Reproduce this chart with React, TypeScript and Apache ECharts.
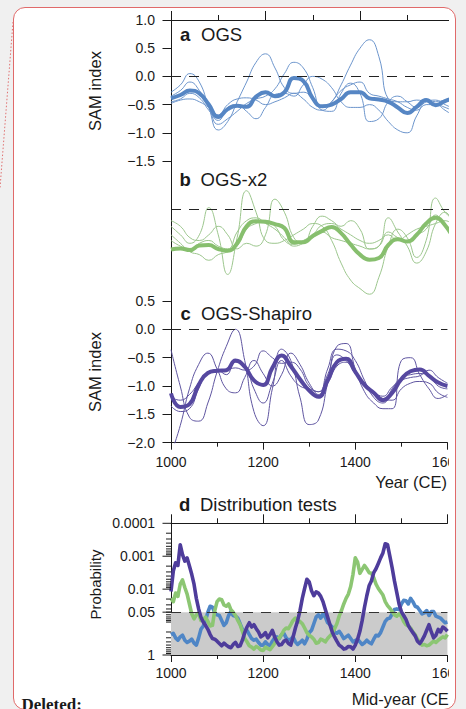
import React, { useEffect, useRef } from "react";
import * as echarts from "echarts";

// ---- Panels a–c: 20-year sampled SAM index reconstructions ----
const years20 = [
  1000, 1020, 1040, 1060, 1080, 1100, 1120, 1140, 1160, 1180, 1200, 1220, 1240, 1260, 1280, 1300,
  1320, 1340, 1360, 1380, 1400, 1420, 1440, 1460, 1480, 1500, 1520, 1540, 1560, 1580, 1600,
];

const ogsMean = [
  -0.39, -0.33, -0.25, -0.3, -0.5, -0.72, -0.58, -0.52, -0.54, -0.36, -0.28, -0.35, -0.28, -0.03, -0.08, -0.39,
  -0.53, -0.5, -0.4, -0.28, -0.28, -0.39, -0.41, -0.45, -0.55, -0.65, -0.54, -0.42, -0.51, -0.44, -0.38,
];
const ogsRun1 = [
  -0.28, -0.15, 0.05, -0.1, -0.55, -0.95, -0.8, -0.45, -0.1, 0.25, 0.4, 0.15, -0.2, -0.3, -0.28, -0.4,
  -0.55, -0.45, -0.15, 0.2, 0.5, 0.65, 0.35, -0.4, -0.45, -0.45, -0.42, -0.45, -0.48, -0.6, -0.7,
];
const ogsRun2 = [
  -0.35, -0.25, -0.1, -0.25, -0.55, -0.85, -0.75, -0.62, -0.48, -0.4, -0.35, -0.22, 0.05, 0.25, 0.15, -0.2,
  -0.6, -0.62, -0.3, -0.12, -0.3, -0.8, -0.75, -0.45, -0.35, -0.45, -0.55, -0.4, -0.45, -0.42, -0.4,
];
const ogsRun3 = [
  -0.45, -0.4, -0.3, -0.38, -0.6, -0.78, -0.55, -0.5, -0.62, -0.75, -0.55, -0.32, -0.3, -0.35, -0.15, 0.0,
  -0.05, -0.2, -0.45, -0.55, -0.55, -0.5, -0.6, -0.8, -0.95, -1.0, -0.7, -0.45, -0.42, -0.5, -0.58,
];
const ogsRun4 = [
  -0.48, -0.42, -0.4, -0.45, -0.55, -0.68, -0.5, -0.4, -0.38, -0.42, -0.5, -0.45, -0.38, -0.3, -0.4, -0.55,
  -0.6, -0.45, -0.25, -0.15, -0.1, -0.3, -0.35, -0.4, -0.45, -0.55, -0.6, -0.5, -0.5, -0.55, -0.62,
];

const x2Mean = [
  -0.71, -0.69, -0.72, -0.64, -0.63, -0.7, -0.73, -0.6, -0.3, -0.21, -0.22, -0.26, -0.33, -0.58, -0.58, -0.47,
  -0.38, -0.31, -0.42, -0.62, -0.8, -0.89, -0.86, -0.63, -0.53, -0.57, -0.45, -0.25, -0.15, -0.28, -0.55,
];
const x2Run1 = [
  -0.3, -0.45, -0.6, -0.45, 0.03, -0.45, -1.15, -0.5, 0.33, -0.05, -0.55, -0.6, -0.55, -0.45, -0.35, -0.25,
  -0.3, -0.55, -0.95, -1.25, -1.4, -1.5, -1.2, -0.65, -0.35, -0.5, -0.85, -0.55, 0.2, -0.05, -0.2,
];
const x2Run2 = [
  -0.2, -0.3, -0.5, -0.55, -0.45, -0.3, -0.45, -0.7, -0.6, -0.65, -0.45, 0.18, -0.05, -0.5, -0.6, -0.3,
  -0.12, -0.2, -0.3, -0.2, -0.35, -0.7, -0.65, -0.15, -0.4, -0.65, -0.95, -0.75, -0.25, -0.05, -0.35,
];
const x2Run3 = [
  -0.45, -0.6, -0.75, -0.8, -0.9, -0.8, -0.75, -0.65, -0.35, -0.25, -0.2, -0.3, -0.55, -0.62, -0.55, -0.45,
  -0.28, -0.25, -0.35, -0.45, -0.55, -0.6, -0.55, -0.45, -0.55, -0.45, -0.35, -0.3, -0.25, -0.2, -0.3,
];
const x2Run4 = [
  -0.55, -0.65, -0.7, -0.6, -0.55, -0.65, -0.7, -0.4, -0.2, -0.15, -0.25, -0.35, -0.5, -0.65, -0.6, -0.5,
  -0.4, -0.5, -0.55, -0.6, -0.65, -0.7, -0.65, -0.4, -0.5, -0.55, -0.45, -0.35, -0.1, -0.3, -0.45,
];

const shapiroMean = [
  -1.13, -1.37, -1.32, -0.98, -0.77, -0.73, -0.72, -0.55, -0.66, -0.9, -0.98, -0.68, -0.46, -0.65, -0.88, -1.08,
  -1.19, -0.9, -0.58, -0.52, -0.75, -0.98, -1.12, -1.25, -1.12, -0.88, -0.74, -0.71, -0.82, -0.94, -1.0,
];
const shapiroRun1 = [
  -0.36, -1.0, -1.55, -1.62, -1.3, -0.75, -0.3, 0.0, -0.55, -1.45, -1.7, -1.05, -0.35, -0.55, -1.2, -1.68,
  -1.6, -0.95, -0.3, -0.25, -0.7, -1.1, -1.3, -1.4, -1.4, -0.55, -0.5, -0.8, -1.05, -1.22, -1.15,
];
const shapiroRun2 = [
  -2.2, -1.7, -1.05, -0.62, -0.42, -0.7, -1.05, -1.12, -0.85, -0.55, -0.78, -1.0, -0.8, -0.42, -0.62, -0.95,
  -1.15, -0.7, -0.35, -0.38, -0.55, -0.9, -1.2, -1.3, -1.05, -0.85, -0.8, -0.78, -0.82, -1.0, -1.05,
];
const shapiroRun3 = [
  -1.2, -1.25, -1.15, -0.95, -0.78, -0.73, -0.72, -0.68, -0.72, -0.65, -0.38, -0.5, -0.6, -0.58, -0.7, -1.0,
  -1.1, -0.8, -0.45, -0.55, -0.78, -0.95, -1.1, -1.18, -1.02, -0.9, -0.85, -0.82, -0.72, -0.85, -0.95,
];
const shapiroRun4 = [
  -1.35, -1.45, -1.4, -1.05, -0.75, -0.72, -0.8, -0.58, -0.62, -1.05, -1.3, -0.95, -0.55, -0.82, -1.0, -1.05,
  -1.1, -0.95, -0.65, -0.58, -0.78, -1.0, -1.1, -1.22, -1.25, -1.05, -0.95, -0.92, -0.95, -1.12, -1.2,
];

// ---- Panel d: distribution-test probabilities, stored as log10(p) per mid-year ----
const years5 = [
  1000, 1005, 1010, 1015, 1020, 1025, 1030, 1035, 1040, 1045,
  1050, 1055, 1060, 1065, 1070, 1075, 1080, 1085, 1090, 1095,
  1100, 1105, 1110, 1115, 1120, 1125, 1130, 1135, 1140, 1145,
  1150, 1155, 1160, 1165, 1170, 1175, 1180, 1185, 1190, 1195,
  1200, 1205, 1210, 1215, 1220, 1225, 1230, 1235, 1240, 1245,
  1250, 1255, 1260, 1265, 1270, 1275, 1280, 1285, 1290, 1295,
  1300, 1305, 1310, 1315, 1320, 1325, 1330, 1335, 1340, 1345,
  1350, 1355, 1360, 1365, 1370, 1375, 1380, 1385, 1390, 1395,
  1400, 1405, 1410, 1415, 1420, 1425, 1430, 1435, 1440, 1445,
  1450, 1455, 1460, 1465, 1470, 1475, 1480, 1485, 1490, 1495,
  1500, 1505, 1510, 1515, 1520, 1525, 1530, 1535, 1540, 1545,
  1550, 1555, 1560, 1565, 1570, 1575, 1580, 1585, 1590, 1595,
  1600,
];
const ogsLogP = [
  -0.62, -0.66, -0.52, -0.45, -0.55, -0.6, -0.45, -0.38, -0.42, -0.48,
  -0.36, -0.3, -0.52, -0.78, -0.88, -1.05, -1.3, -1.48, -1.45, -1.28,
  -1.22, -1.2, -1.05, -0.9, -0.98, -1.2, -1.32, -1.2, -1.18, -1.12,
  -0.95, -0.78, -0.72, -0.75, -0.62, -0.5, -0.45, -0.48, -0.38, -0.3,
  -0.3, -0.4, -0.32, -0.28, -0.42, -0.52, -0.55, -0.5, -0.62, -0.66,
  -0.52, -0.45, -0.48, -0.55, -0.4, -0.32, -0.38, -0.45, -0.34, -0.48,
  -0.68, -0.75, -0.95, -1.15, -1.22, -1.12, -1.25, -1.15, -0.98, -0.92,
  -0.85, -0.7, -0.66, -0.72, -0.62, -0.5, -0.55, -0.6, -0.5, -0.4,
  -0.44, -0.48, -0.4, -0.32, -0.37, -0.45, -0.38, -0.34, -0.48, -0.6,
  -0.58, -0.68, -0.85, -1.02, -1.1, -1.12, -1.25, -1.38, -1.4, -1.38,
  -1.55, -1.66, -1.65, -1.55, -1.72, -1.62, -1.48, -1.45, -1.35, -1.25,
  -1.28, -1.35, -1.2, -1.32, -1.32, -1.18, -1.15, -1.12, -1.05, -0.98,
  -1.0,
];
const x2LogP = [
  -1.72, -1.62, -1.88, -1.78, -2.15, -2.28, -2.05, -1.85, -1.55, -1.25,
  -1.1, -1.22, -1.28, -1.05, -1.08, -1.15, -1.02, -0.88, -0.9, -1.35,
  -1.62, -1.7, -1.68, -1.52, -1.48, -1.55, -1.38, -1.3, -1.2, -1.05,
  -0.92, -0.72, -0.5, -0.4, -0.28, -0.24, -0.18, -0.26, -0.22, -0.15,
  -0.14, -0.24, -0.2, -0.16, -0.25, -0.35, -0.48, -0.52, -0.62, -0.75,
  -0.82, -0.8, -0.92, -1.05, -1.12, -1.0, -1.02, -0.95, -0.82, -0.68,
  -0.6, -0.55, -0.48, -0.36, -0.38, -0.48, -0.45, -0.4, -0.5, -0.58,
  -0.65, -0.8, -0.95, -1.18, -1.35, -1.55, -1.72, -1.85, -2.08, -2.45,
  -2.95, -2.82, -2.48, -2.6, -2.72, -2.62, -2.5, -2.48, -2.35, -2.15,
  -2.02, -1.92, -1.82, -1.62, -1.5, -1.42, -1.32, -1.22, -1.18, -1.25,
  -1.18, -1.02, -0.92, -0.88, -0.82, -0.7, -0.62, -0.48, -0.4, -0.3,
  -0.32, -0.28, -0.3, -0.36, -0.42, -0.38, -0.45, -0.5, -0.55, -0.52,
  -0.62,
];
const shapiroLogP = [
  -1.93, -2.55, -2.8, -2.72, -3.35, -3.05, -2.85, -2.95, -2.7, -2.45,
  -2.15, -1.72, -1.4, -1.15, -1.0, -0.9, -0.78, -0.62, -0.5, -0.48,
  -0.42, -0.35, -0.28, -0.36, -0.3, -0.25, -0.22, -0.32, -0.38, -0.26,
  -0.28, -0.45, -0.68, -0.85, -0.98, -0.85, -0.92, -0.8, -0.7, -0.55,
  -0.6, -0.68, -0.52, -0.62, -0.75, -0.55, -0.4, -0.3, -0.32, -0.42,
  -0.45, -0.35, -0.3, -0.55, -0.82, -1.05, -1.35, -1.72, -2.02, -2.3,
  -2.22, -1.95, -1.8, -1.92, -1.88, -1.78, -1.62, -1.38, -1.15, -0.92,
  -0.7, -0.55, -0.42, -0.3, -0.25, -0.18, -0.2, -0.26, -0.25, -0.18,
  -0.3, -0.48, -0.72, -1.05, -1.45, -1.8, -2.1, -2.25, -2.5, -2.62,
  -2.78, -2.95, -3.1, -3.38, -3.35, -3.0, -2.65, -2.25, -1.9, -1.55,
  -1.32, -1.2, -1.08, -0.9, -0.78, -0.68, -0.58, -0.42, -0.35, -0.45,
  -0.58, -0.75, -0.92, -0.7, -0.52, -0.6, -0.78, -0.7, -0.85, -0.8,
  -0.72,
];

const probTickValues = [0.0001, 0.001, 0.01, 0.05, 1];
const probTickLabels = ["0.0001", "0.001", "0.01", "0.05", "1"];
const probThreshold = 0.05;

// ---- styling ----
const INK = "#1a1a1a";
const FONT = '"Liberation Sans", Arial, Helvetica, sans-serif';
const BLUE = "#5686c4";
const BLUE_THIN = "#6c95cc";
const GREEN = "#87bf6e";
const GREEN_THIN = "#9cc68d";
const PURPLE = "#5648a0";
const PURPLE_THIN = "#5f55a0";
const D_BLUE = "#4f86c6";
const D_GREEN = "#8cc673";
const D_PURPLE = "#4e3c9b";

const GRID_LEFT = 171;
const GRID_RIGHT = 11.5;

const minusFmt = (v: number) => (v < 0 ? "\u2212" : "") + Math.abs(v).toFixed(1);

function topAxis(gridIndex: number) {
  return {
    type: "value",
    gridIndex,
    position: "top",
    min: 1000,
    max: 1600,
    interval: 200,
    axisLine: { show: true, onZero: false, lineStyle: { color: INK, width: 1 } },
    axisTick: { show: true, length: 9, lineStyle: { color: INK, width: 1 } },
    minorTick: { show: true, splitNumber: 2, length: 5, lineStyle: { color: INK, width: 1 } },
    axisLabel: { show: false },
    splitLine: { show: false },
    minorSplitLine: { show: false },
  };
}

function bottomAxis(gridIndex: number, margin: number) {
  return {
    type: "value",
    gridIndex,
    position: "bottom",
    min: 1000,
    max: 1600,
    interval: 200,
    axisLine: { show: true, onZero: false, lineStyle: { color: INK, width: 1 } },
    axisTick: { show: true, length: 7, lineStyle: { color: INK, width: 1 } },
    minorTick: { show: true, splitNumber: 2, length: 4, lineStyle: { color: INK, width: 1 } },
    axisLabel: {
      show: true,
      color: INK,
      fontSize: 14,
      fontFamily: FONT,
      margin,
      formatter: (v: number) => String(v),
    },
    splitLine: { show: false },
    minorSplitLine: { show: false },
  };
}

function samAxis(gridIndex: number, min: number, max: number) {
  return {
    type: "value",
    gridIndex,
    min,
    max,
    interval: 0.5,
    axisLine: { show: true, onZero: false, lineStyle: { color: INK, width: 1 } },
    axisTick: { show: true, length: 8.5, lineStyle: { color: INK, width: 1 } },
    axisLabel: { show: true, color: INK, fontSize: 14, fontFamily: FONT, margin: 16, formatter: minusFmt },
    splitLine: { show: false },
  };
}

const zeroLine = {
  silent: true,
  symbol: ["none", "none"],
  label: { show: false },
  lineStyle: { color: "#222", width: 1, type: [10, 8] },
  data: [{ yAxis: 0 }],
};

function panelSeries(axisIndex: number, xIndex: number, mean: number[], runs: number[][], thick: string, thin: string) {
  const runSeries = runs.map((run) => ({
    type: "line",
    xAxisIndex: xIndex,
    yAxisIndex: axisIndex,
    data: years20.map((y, i) => [y, run[i]]),
    smooth: 0.5,
    symbol: "none",
    silent: true,
    z: 3,
    lineStyle: { width: 1, color: thin },
  }));
  return [
    ...runSeries,
    {
      type: "line",
      xAxisIndex: xIndex,
      yAxisIndex: axisIndex,
      data: years20.map((y, i) => [y, mean[i]]),
      smooth: 0.5,
      symbol: "none",
      silent: true,
      z: 4,
      lineStyle: { width: 4, color: thick },
      markLine: zeroLine,
    },
  ];
}

function probSeries(logP: number[], color: string) {
  return {
    type: "line",
    xAxisIndex: 4,
    yAxisIndex: 3,
    data: years5.map((y, i) => [y, Math.pow(10, logP[i])]),
    symbol: "none",
    silent: true,
    z: 4,
    lineStyle: { width: 3.6, color, join: "round" },
  };
}

// minor ticks of the reversed log axis: 2..9 within each decade, plus 0.1
const probMinorTicks: number[] = [];
for (let e = -4; e <= -1; e++) {
  for (let k = 2; k <= 9; k++) probMinorTicks.push(k * Math.pow(10, e));
}
probMinorTicks.push(0.1);

function label(x: number, y: number, text: string, size: number, opts: any = {}) {
  return {
    type: "text",
    x,
    y,
    rotation: opts.rotation || 0,
    silent: true,
    z: 20,
    style: {
      text,
      fill: INK,
      font: `${opts.bold ? "bold " : ""}${size}px ${opts.family || FONT}`,
      textAlign: opts.align || "left",
      align: opts.align || "left",
      textVerticalAlign: "middle",
      verticalAlign: "middle",
    },
  };
}

function buildOption() {
  return {
    animation: false,
    backgroundColor: "transparent",
    textStyle: { fontFamily: FONT },
    grid: [
      { left: GRID_LEFT, right: GRID_RIGHT, top: 20, height: 141 },
      { left: GRID_LEFT, right: GRID_RIGHT, top: 161, height: 140 },
      { left: GRID_LEFT, right: GRID_RIGHT, top: 301, height: 141.7 },
      { left: GRID_LEFT, right: GRID_RIGHT, top: 523.3, height: 131.7 },
    ],
    xAxis: [
      topAxis(0),
      { type: "value", gridIndex: 1, min: 1000, max: 1600, show: false },
      bottomAxis(2, 12.5),
      topAxis(3),
      bottomAxis(3, 11),
    ],
    yAxis: [
      samAxis(0, -1.5, 1.0),
      {
        type: "value",
        gridIndex: 1,
        min: -1.62,
        max: 0.855,
        axisLine: { show: true, onZero: false, lineStyle: { color: INK, width: 1 } },
        axisTick: { show: false },
        axisLabel: { show: false },
        splitLine: { show: false },
      },
      samAxis(2, -2.0, 0.5),
      {
        type: "log",
        logBase: 10,
        gridIndex: 3,
        min: 0.0001,
        max: 1,
        inverse: true,
        axisLine: { show: true, onZero: false, lineStyle: { color: INK, width: 1 } },
        axisTick: { show: false },
        axisLabel: { show: false },
        splitLine: { show: false },
      },
    ],
    series: [
      ...panelSeries(0, 0, ogsMean, [ogsRun1, ogsRun2, ogsRun3, ogsRun4], BLUE, BLUE_THIN),
      ...panelSeries(1, 1, x2Mean, [x2Run1, x2Run2, x2Run3, x2Run4], GREEN, GREEN_THIN),
      ...panelSeries(2, 2, shapiroMean, [shapiroRun1, shapiroRun2, shapiroRun3, shapiroRun4], PURPLE, PURPLE_THIN),
      {
        type: "line",
        xAxisIndex: 4,
        yAxisIndex: 3,
        data: [],
        silent: true,
        z: 1,
        markArea: {
          silent: true,
          itemStyle: { color: "#cbcbcb" },
          data: [[{ yAxis: probThreshold }, { yAxis: 1 }]],
        },
        markLine: {
          silent: true,
          symbol: ["none", "none"],
          label: { show: false },
          lineStyle: { color: "#333", width: 1, type: [10, 8] },
          data: [{ yAxis: probThreshold }],
        },
      },
      probSeries(ogsLogP, D_BLUE),
      probSeries(x2LogP, D_GREEN),
      probSeries(shapiroLogP, D_PURPLE),
      {
        type: "custom",
        xAxisIndex: 4,
        yAxisIndex: 3,
        clip: false,
        silent: true,
        z: 10,
        data: probMinorTicks.map((v) => [1000, v]),
        renderItem: (_p: any, api: any) => {
          const pt = api.coord([api.value(0), api.value(1)]);
          return {
            type: "line",
            shape: { x1: pt[0] - 5, y1: pt[1], x2: pt[0], y2: pt[1] },
            style: { stroke: INK, lineWidth: 1 },
          };
        },
      },
      {
        type: "custom",
        xAxisIndex: 4,
        yAxisIndex: 3,
        clip: false,
        silent: true,
        z: 10,
        data: probTickValues.map((v) => [1000, v]),
        renderItem: (params: any, api: any) => {
          const pt = api.coord([api.value(0), api.value(1)]);
          return {
            type: "group",
            children: [
              {
                type: "line",
                shape: { x1: pt[0] - 8.5, y1: pt[1], x2: pt[0], y2: pt[1] },
                style: { stroke: INK, lineWidth: 1 },
              },
              {
                type: "text",
                x: pt[0] - 16,
                y: pt[1],
                style: {
                  text: probTickLabels[params.dataIndex],
                  fill: INK,
                  font: `14px ${FONT}`,
                  align: "right",
                  verticalAlign: "middle",
                },
              },
            ],
          };
        },
      },
    ],
    graphic: [
      {
        type: "line",
        silent: true,
        shape: { x1: 13, y1: 22, x2: 0, y2: 188 },
        style: { stroke: "#e07070", lineWidth: 1, lineDash: [1.5, 2] },
      },
      label(180, 34, "a", 18.5, { bold: true }),
      label(201, 34, "OGS", 18.5),
      label(179.5, 179.5, "b", 18.5, { bold: true }),
      label(200.5, 179.5, "OGS-x2", 18.5),
      label(180.5, 313, "c", 18.5, { bold: true }),
      label(201, 313, "OGS-Shapiro", 18.5),
      label(179, 504.5, "d", 18.5, { bold: true }),
      label(200, 504.5, "Distribution tests", 18.5),
      label(95, 91, "SAM index", 16.5, { rotation: Math.PI / 2, align: "center" }),
      label(95, 372, "SAM index", 16.5, { rotation: Math.PI / 2, align: "center" }),
      label(95, 584.5, "Probability", 15, { rotation: Math.PI / 2, align: "center" }),
      label(447, 482, "Year (CE)", 16.5, { align: "right" }),
      label(351.7, 698.5, "Mid-year (CE)", 16.5),
      label(21.5, 704.5, "Deleted:", 17, { bold: true, family: '"Liberation Serif", "Times New Roman", serif' }),
    ],
  };
}

export default function App() {
  const ref = useRef<HTMLDivElement>(null);

  useEffect(() => {
    if (!ref.current) return;
    const chart = echarts.init(ref.current, null, { renderer: "svg" });
    chart.setOption(buildOption() as any);
    return () => chart.dispose();
  }, []);

  return (
    <div
      style={{
        position: "fixed",
        left: 0,
        top: 0,
        width: 466,
        height: 709,
        background: "#f0f0f0",
        overflow: "hidden",
      }}
    >
      <div
        style={{
          position: "absolute",
          left: 13,
          top: 7,
          width: 443,
          height: 703,
          boxSizing: "border-box",
          border: "1px solid #e06a6a",
          borderRadius: 12,
          background: "#ffffff",
        }}
      />
      <div style={{ position: "absolute", left: 0, top: 0, width: 449, height: 709, overflow: "hidden" }}>
        <div ref={ref} style={{ width: 466, height: 709 }} />
      </div>
    </div>
  );
}
